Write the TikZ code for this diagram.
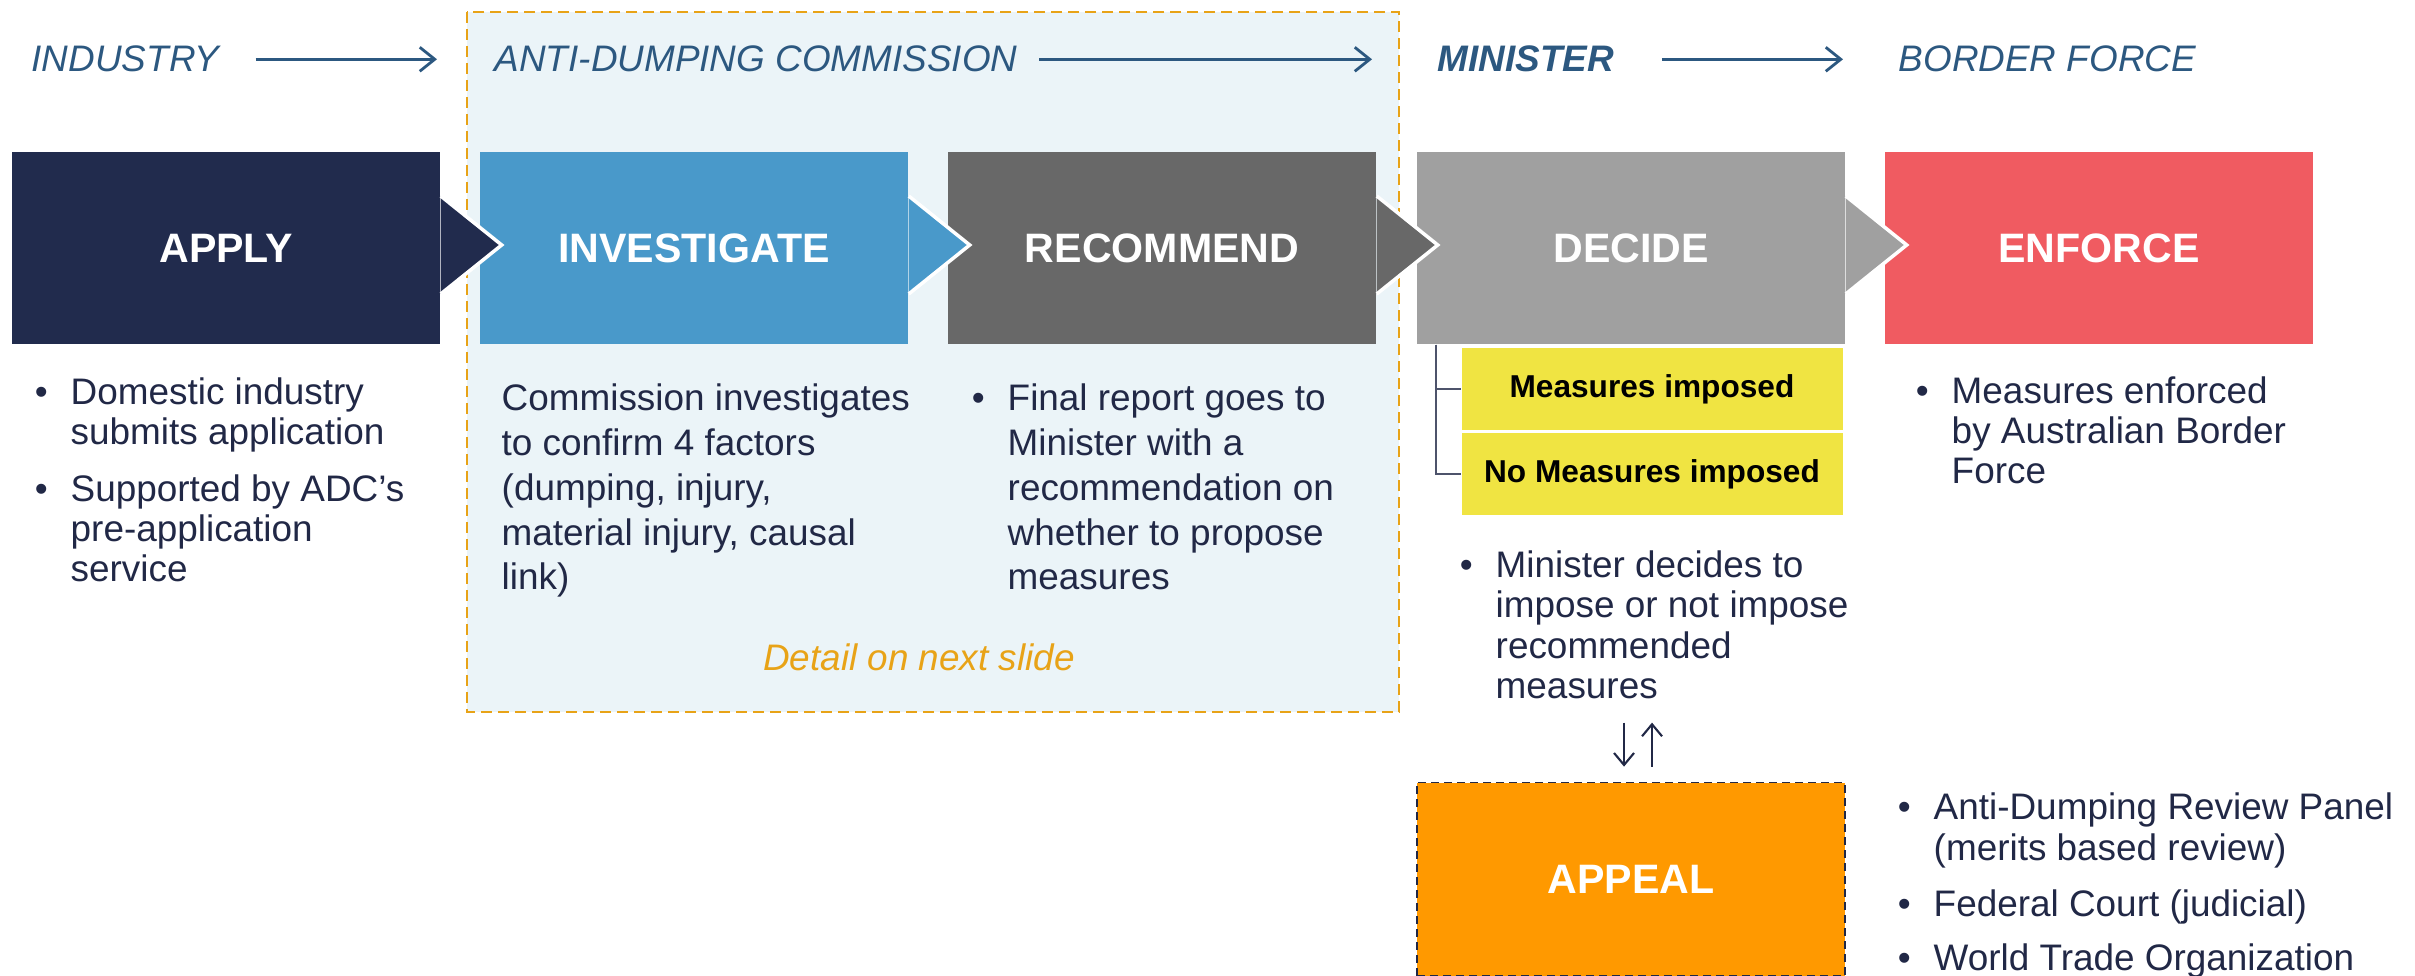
\documentclass[tikz,border=0pt]{standalone}
\usepackage{fontspec}
\setmainfont{Liberation Sans}
\usetikzlibrary{arrows.meta}
\definecolor{applyblue}{RGB}{33,43,77}
\definecolor{investblue}{RGB}{73,153,202}
\definecolor{recgrey}{RGB}{104,104,104}
\definecolor{decgrey}{RGB}{160,160,160}
\definecolor{enfred}{RGB}{240,91,97}
\definecolor{adcbg}{RGB}{235,244,248}
\definecolor{adcorange}{RGB}{232,163,23}
\definecolor{headblue}{RGB}{44,88,128}
\definecolor{ink}{RGB}{33,40,70}
\definecolor{choiceyellow}{RGB}{240,228,66}
\definecolor{appealorange}{RGB}{255,153,0}
\def\bul{\llap{\textbullet\hspace{2.3mm}}}
\def\stagetip[#1](#2){\fill[#1] (#2.east) ++(0,-52) -- ++(61,49) -- ++(-61,49) -- cycle;
	\draw[white, line width=1pt] (#2.east) ++(0,-52) -- ++(61,49) -- ++(-61,49);}
\tikzset{
	stage/.style={minimum width=42.8mm, minimum height=19.2mm, inner sep=0pt, text=white, font=\fontsize{11.7}{14}\selectfont\bfseries},
	appealbox/.style={stage, fill=appealorange, draw=ink, line width=0.5pt, dash pattern=on 0.8mm off 0.5mm, minimum height=19.3mm},
	head/.style={anchor=base west, inner sep=0pt, text=headblue, font=\fontsize{10.5}{12}\selectfont\itshape},
	flow/.style={draw=headblue, line width=0.8pt, -{Straight Barb[length=1.5mm, width=2.4mm]}},
	body/.style={anchor=base west, inner sep=0pt, align=left, text=ink, font=\fontsize{10.5}{11.4}\selectfont},
	body loose/.style={body, font=\fontsize{10.5}{12.8}\selectfont},
	choice/.style={fill=choiceyellow, minimum width=38.1mm, minimum height=8.2mm, inner sep=0pt, font=\fontsize{9}{10}\selectfont\bfseries},
	tree/.style={draw=ink!80, line width=0.5pt},
	twoway/.style={draw=ink, line width=0.6pt, -{Straight Barb[length=1.2mm, width=2mm]}},
}

\begin{document}
\begin{tikzpicture}[x=0.1mm, y=-0.1mm]
	%%%%% START %%%%%
	\useasboundingbox (0,0) rectangle (2415,976);
	\draw[fill=adcbg, draw=adcorange, line width=0.75pt, dash pattern=on 1.1mm off 0.6mm] (467,12) rectangle (1399,712);
	
	\node[head] (industry) at (31,72) {INDUSTRY};
	\node[head] (adc) at (494,72) {ANTI-DUMPING COMMISSION};
	\node[head, font=\fontsize{10.5}{12}\selectfont\bfseries\itshape] (minister) at (1437,72) {MINISTER};
	\node[head] (border) at (1898,72) {BORDER FORCE};
	\draw[flow, shorten <=3.6mm, shorten >=5.7mm] (industry.east) -- (adc.west);
	\draw[flow, shorten <=2.1mm, shorten >=6.5mm] (adc.east) -- (minister.west);
	\draw[flow, shorten <=4.7mm, shorten >=5.5mm] (minister.east) -- (border.west);
	
	\node[stage, fill=applyblue] (apply) at (226,248) {APPLY};
	\node[stage, fill=investblue] (investigate) at (694,248) {INVESTIGATE};
	\node[stage, fill=recgrey] (recommend) at (1162,248) {RECOMMEND};
	\node[stage, fill=decgrey] (decide) at (1631,248) {DECIDE};
	\node[stage, fill=enfred] (enforce) at (2099,248) {ENFORCE};
	\stagetip[applyblue](apply)
	\stagetip[investblue](investigate)
	\stagetip[recgrey](recommend)
	\stagetip[decgrey](decide)
	
	% base anchor of a several-line node = its last line
	\node[body] (domestic) at (70,445) {\bul Domestic industry\\submits application};
	\node[body] (supported) at (70,582) {\bul Supported by ADC’s\\pre-application\\service};
	\node[body loose] (factors) at (501,590) {Commission investigates\\to confirm 4 factors\\(dumping, injury,\\material injury, causal\\link)};
	\node[body loose] (report) at (1007,590) {\bul Final report goes to\\Minister with a\\recommendation on\\whether to propose\\measures};
	\node[text=adcorange, font=\fontsize{10.5}{12}\selectfont\itshape] (detail) at (919,657) {Detail on next slide};
	
	\node[choice] (imposed) at (1652,389) {Measures imposed};
	\node[choice] (noimposed) at (1652,474) {No Measures imposed};
	\draw[tree] (decide.south west) ++(20,0) |- (imposed.west);
	\draw[tree] (decide.south west) ++(20,0) |- (noimposed.west);
	\node[body, font=\fontsize{10.5}{11.55}\selectfont] (decides) at (1495,699) {\bul Minister decides to\\impose or not impose\\recommended\\measures};
	\node[body] (enforced) at (1951,484) {\bul Measures enforced\\by Australian Border\\Force};
	
	\node[appealbox] (appeal) at (1631,879) {APPEAL};
	\draw[twoway] (appeal.north) ++(-7,-59) -- ++(0,44);
	\draw[twoway] (appeal.north) ++(21,-15) -- ++(0,-44);
	\node[body] (panel) at (1933,860) {\bul Anti-Dumping Review Panel\\(merits based review)};
	\node[body] (court) at (1933,916) {\bul Federal Court (judicial)};
	\node[body] (wto) at (1933,970) {\bul World Trade Organization};
	%%%%% END %%%%%
\end{tikzpicture}
\end{document}
